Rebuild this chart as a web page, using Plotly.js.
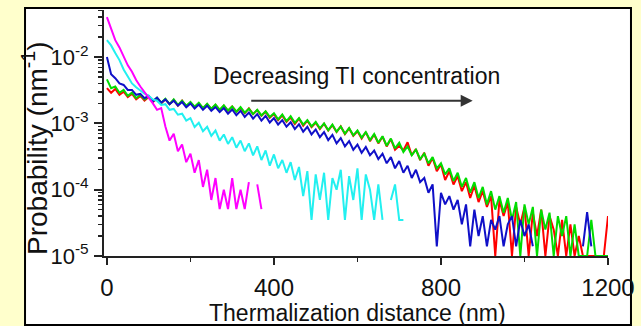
<!DOCTYPE html>
<html>
<head>
<meta charset="utf-8">
<script src="https://cdn.plot.ly/plotly-3.0.1.min.js"></script>
<style>html,body{margin:0;padding:0;background:#FFFFCC;}#chart{width:641px;height:326px;}</style>
</head>
<body>
<div id="chart"></div>
<script>
// Histogram bin width (nm)
const binWidthNm = 10;

// Probability (nm^-1) per 10 nm bin, starting at 0 nm
const magentaProb = [
  4.0e-2, 2.6e-2, 1.8e-2, 1.4e-2, 1.0e-2, 7.5e-3, 6.0e-3, 4.5e-3, 3.6e-3, 3.0e-3,
  2.4e-3, 2.0e-3, 1.6e-3, 1.7e-3, 9.0e-4, 5.5e-4, 7.0e-4, 3.8e-4, 4.8e-4, 2.6e-4,
  3.5e-4, 1.8e-4, 2.8e-4, 1.1e-4, 2.0e-4, 7.0e-5, 1.5e-4, 5.1e-5, 1.0e-4, 5.1e-5,
  1.5e-4, 5.1e-5, 1.0e-4, 5.1e-5, 1.3e-4, null, 1.2e-4, 5.1e-5
];
const cyanProb = [
  1.8e-2, 1.5e-2, 1.15e-2, 9.0e-3, 6.5e-3, 5.0e-3, 4.0e-3, 3.5e-3, 3.1e-3, 2.8e-3,
  2.6e-3, 2.3e-3, 2.2e-3, 1.9e-3, 1.95e-3, 1.6e-3, 1.65e-3, 1.35e-3, 1.4e-3, 1.1e-3,
  1.2e-3, 8.8e-4, 1.02e-3, 7.6e-4, 8.9e-4, 6.5e-4, 7.8e-4, 5.5e-4, 6.8e-4, 4.9e-4,
  6.2e-4, 4.3e-4, 5.5e-4, 3.8e-4, 5.0e-4, 3.3e-4, 4.5e-4, 2.8e-4, 3.9e-4, 2.3e-4,
  3.4e-4, 2.1e-4, 2.8e-4, 1.8e-4, 2.6e-4, 1.4e-4, 2.2e-4, 8.0e-5, 1.9e-4, 3.5e-5,
  1.7e-4, 7.0e-5, 1.8e-4, 3.5e-5, 1.5e-4, 1.0e-4, 2.0e-4, 3.5e-5, 1.6e-4, 7.0e-5,
  2.1e-4, 3.5e-5, 1.7e-4, 1.0e-4, 3.5e-5, 1.2e-4, 3.5e-5, null, 7.0e-5, 1.2e-4,
  3.5e-5, 3.5e-5
];
const blueProb = [
  1.0e-2, 5.5e-3, 4.8e-3, 4.0e-3, 3.8e-3, 3.2e-3, 3.2e-3, 2.7e-3, 2.8e-3, 2.4e-3,
  2.6e-3, 2.15e-3, 2.45e-3, 2.05e-3, 2.3e-3, 1.95e-3, 2.2e-3, 1.85e-3, 2.1e-3, 1.75e-3,
  2.0e-3, 1.68e-3, 1.92e-3, 1.6e-3, 1.85e-3, 1.55e-3, 1.76e-3, 1.48e-3, 1.7e-3, 1.4e-3,
  1.62e-3, 1.33e-3, 1.55e-3, 1.25e-3, 1.46e-3, 1.18e-3, 1.38e-3, 1.1e-3, 1.3e-3, 1.03e-3,
  1.2e-3, 9.6e-4, 1.12e-3, 8.9e-4, 1.04e-3, 8.2e-4, 9.7e-4, 7.5e-4, 8.9e-4, 6.8e-4,
  8.1e-4, 6.2e-4, 7.4e-4, 5.6e-4, 6.7e-4, 5.0e-4, 6.0e-4, 4.5e-4, 5.4e-4, 4.0e-4,
  4.8e-4, 3.6e-4, 4.4e-4, 3.3e-4, 3.9e-4, 2.9e-4, 3.5e-4, 2.5e-4, 3.1e-4, 2.1e-4,
  2.7e-4, 1.8e-4, 2.3e-4, 1.5e-4, 2.0e-4, 1.3e-4, 1.5e-4, 9.0e-5, 1.2e-4, 1.4e-5,
  9.0e-5, 6.0e-5, 8.0e-5, 5.0e-5, 7.0e-5, 3.0e-5, 6.0e-5, 1.4e-5, 5.0e-5, 2.0e-5,
  4.0e-5, 1.4e-5, 3.5e-5, 2.5e-5, 4.0e-5, 1.4e-5, 3.0e-5, 4.0e-5, 1.4e-5, 3.5e-5,
  2.0e-5, 3.0e-5, 1.4e-5, null, null, null, null, null, null, null,
  null, null, null, null, 1.4e-5, 4.6e-5, 1.4e-5
];
const redProb = [
  3.4e-3, 2.9e-3, 3.3e-3, 2.7e-3, 3.0e-3, 2.5e-3, 2.8e-3, 2.3e-3, 2.6e-3, 2.2e-3,
  2.5e-3, 2.1e-3, 2.4e-3, 2.0e-3, 2.3e-3, 1.95e-3, 2.25e-3, 1.85e-3, 2.2e-3, 1.8e-3,
  2.05e-3, 1.75e-3, 2.0e-3, 1.7e-3, 1.95e-3, 1.65e-3, 1.9e-3, 1.6e-3, 1.85e-3, 1.55e-3,
  1.8e-3, 1.5e-3, 1.7e-3, 1.42e-3, 1.68e-3, 1.38e-3, 1.58e-3, 1.3e-3, 1.5e-3, 1.22e-3,
  1.38e-3, 1.12e-3, 1.32e-3, 1.05e-3, 1.22e-3, 9.8e-4, 1.18e-3, 9.2e-4, 1.1e-3, 8.8e-4,
  1.02e-3, 8.2e-4, 9.9e-4, 7.8e-4, 9.4e-4, 7.4e-4, 9.0e-4, 6.9e-4, 8.4e-4, 6.5e-4,
  7.6e-4, 5.9e-4, 7.4e-4, 5.4e-4, 6.8e-4, 5.0e-4, 6.3e-4, 4.5e-4, 5.8e-4, 4.0e-4,
  4.6e-4, 3.9e-4, 5.2e-4, 3.3e-4, 4.1e-4, 2.8e-4, 3.6e-4, 2.3e-4, 3.0e-4, 1.9e-4,
  2.4e-4, 1.4e-4, 1.9e-4, 1.2e-4, 1.6e-4, 9.5e-5, 1.3e-4, 7.5e-5, 1.15e-4, 6.5e-5,
  9.5e-5, 5.5e-5, 8.0e-5, 1.0e-5, 7.0e-5, 4.0e-5, 6.5e-5, 1.0e-5, 5.5e-5, 3.0e-5,
  5.5e-5, 1.0e-5, 4.5e-5, 2.0e-5, 5.0e-5, 1.0e-5, 4.0e-5, 2.5e-5, 1.0e-5, 3.5e-5,
  1.0e-5, 3.0e-5, 1.0e-5, 2.0e-5, 1.0e-5, 1.0e-5, 1.0e-5, 1.0e-5, 1.0e-5, 1.0e-5,
  4.0e-5
];
const greenProb = [
  4.6e-3, 3.4e-3, 3.6e-3, 2.9e-3, 3.2e-3, 2.6e-3, 2.9e-3, 2.4e-3, 2.7e-3, 2.3e-3,
  2.55e-3, 2.15e-3, 2.45e-3, 2.05e-3, 2.35e-3, 1.95e-3, 2.3e-3, 1.9e-3, 2.2e-3, 1.85e-3,
  2.1e-3, 1.78e-3, 2.05e-3, 1.7e-3, 1.98e-3, 1.66e-3, 1.92e-3, 1.6e-3, 1.88e-3, 1.56e-3,
  1.8e-3, 1.5e-3, 1.76e-3, 1.45e-3, 1.66e-3, 1.38e-3, 1.6e-3, 1.32e-3, 1.52e-3, 1.25e-3,
  1.42e-3, 1.15e-3, 1.36e-3, 1.08e-3, 1.28e-3, 1.02e-3, 1.2e-3, 9.6e-4, 1.12e-3, 9.0e-4,
  1.05e-3, 8.4e-4, 1.0e-3, 7.9e-4, 9.6e-4, 7.5e-4, 9.0e-4, 7.0e-4, 8.5e-4, 6.6e-4,
  7.8e-4, 6.1e-4, 7.4e-4, 5.6e-4, 6.9e-4, 5.1e-4, 6.4e-4, 4.6e-4, 5.9e-4, 4.2e-4,
  5.1e-4, 3.7e-4, 4.5e-4, 3.3e-4, 4.0e-4, 2.9e-4, 3.5e-4, 2.5e-4, 3.1e-4, 2.1e-4,
  2.5e-4, 1.7e-4, 2.1e-4, 1.35e-4, 1.8e-4, 1.1e-4, 1.5e-4, 9.0e-5, 1.3e-4, 7.5e-5,
  1.1e-4, 6.0e-5, 9.5e-5, 5.0e-5, 8.0e-5, 4.5e-5, 7.5e-5, 3.5e-5, 6.5e-5, 1.0e-5,
  6.0e-5, 3.0e-5, 5.5e-5, 1.0e-5, 5.0e-5, 2.5e-5, 4.5e-5, 1.0e-5, 4.0e-5, 2.0e-5,
  4.0e-5, 1.0e-5, 3.0e-5, 1.0e-5, 1.0e-5, 1.0e-5, 3.5e-5, 1.0e-5, 1.0e-5, 1.0e-5,
  1.0e-5
];

const xTickVals = [0, 400, 800, 1200];
const yTickVals = [1e-5, 1e-4, 1e-3, 1e-2];
const yTickText = ['10<sup>-5</sup>', '10<sup>-4</sup>', '10<sup>-3</sup>', '10<sup>-2</sup>'];
const yTitleText = 'Probability (nm<sup>-1</sup>)';
const xTitleText = 'Thermalization distance (nm)';
const noteText = 'Decreasing TI concentration';

function bins(arr) { return arr.map((_, i) => i * binWidthNm); }

const FONT = 'Liberation Sans, Arial, Helvetica, sans-serif';
const NARROW = 'Liberation Sans Narrow, Arial Narrow, Liberation Sans, Arial, sans-serif';
const series = [
  {y: redProb, color: '#FF0000'},
  {y: greenProb, color: '#00DD00'},
  {y: blueProb, color: '#1010C8'},
  {y: cyanProb, color: '#22F0F0'},
  {y: magentaProb, color: '#FF00FF'}
];
const traces = series.map(s => ({
  type: 'scatter', mode: 'lines', x: bins(s.y), y: s.y,
  line: {color: s.color, width: 2}, connectgaps: false, hoverinfo: 'skip'
}));

const axLine = '#222222';
const layout = {
  width: 641, height: 326,
  margin: {l: 104, r: 33, t: 10, b: 70, pad: 0},
  paper_bgcolor: '#FFFFCC', plot_bgcolor: 'rgba(0,0,0,0)',
  showlegend: false,
  font: {family: FONT, color: '#111'},
  xaxis: {
    range: [-7, 1200], tickvals: xTickVals, ticks: 'outside', ticklen: 7, tickwidth: 2,
    tickcolor: axLine, showline: true, linecolor: axLine, linewidth: 2, showgrid: false,
    zeroline: false, tickfont: {size: 24, family: NARROW, color: '#111'}, ticklabelstandoff: 2,
    minor: {dtick: 200, tick0: 0, ticks: 'outside', ticklen: 4, tickwidth: 1.5, tickcolor: axLine}
  },
  yaxis: {
    type: 'log', range: [-5, -1.29], tickvals: yTickVals, ticktext: yTickText, ticks: 'outside',
    ticklen: 8, tickwidth: 2, tickcolor: axLine, showline: true, linecolor: axLine, linewidth: 2,
    showgrid: false, zeroline: false, tickfont: {size: 22, family: FONT, color: '#111'},
    ticklabelstandoff: 1,
    minor: {dtick: 'D1', ticks: 'outside', ticklen: 4, tickwidth: 1.5, tickcolor: axLine}
  },
  xaxis2: {
    overlaying: 'x', side: 'top', anchor: 'y', range: [-7, 1200], tickvals: [0,200,400,600,800,1000,1200],
    ticks: 'inside', ticklen: 5, tickwidth: 1.5, tickcolor: axLine, showticklabels: false,
    showline: true, linecolor: axLine, linewidth: 1.5, showgrid: false, zeroline: false
  },
  yaxis2: {
    overlaying: 'y', side: 'right', anchor: 'x', type: 'log', range: [-5, -1.29], dtick: 1,
    ticks: 'inside', ticklen: 6, tickwidth: 1.5, tickcolor: axLine, showticklabels: false,
    showline: true, linecolor: axLine, linewidth: 2, showgrid: false, zeroline: false,
    minor: {dtick: 'D1', ticks: 'inside', ticklen: 3, tickwidth: 1, tickcolor: axLine}
  },
  shapes: [{
    type: 'rect', xref: 'paper', yref: 'paper', layer: 'below',
    x0: -0.1567, x1: 1.0456, y0: -0.2805, y1: 1.0081,
    fillcolor: '#FFFFFF', line: {color: '#000', width: 2}
  }],
  annotations: [
    {xref: 'paper', yref: 'paper', x: -0.137, y: 0.439, text: yTitleText, textangle: -90,
     showarrow: false, font: {size: 28, family: FONT, color: '#111'}, xanchor: 'center', yanchor: 'middle'},
    {xref: 'paper', yref: 'paper', x: 0.502, y: -0.232, text: xTitleText, showarrow: false,
     font: {size: 23, family: FONT, color: '#111'}, xanchor: 'center', yanchor: 'middle'},
    {xref: 'paper', yref: 'paper', x: 0.5, y: 0.732, text: noteText, showarrow: false,
     font: {size: 23, family: FONT, color: '#111'}, xanchor: 'center', yanchor: 'middle'},
    {xref: 'x', yref: 'y', x: 876, y: -2.659, ax: 342, ay: -2.659, axref: 'x', ayref: 'y',
     text: '', showarrow: true, arrowhead: 2, arrowsize: 1.2, arrowwidth: 2, arrowcolor: '#333', standoff: 0}
  ]
};

Plotly.newPlot('chart', traces, layout, {staticPlot: true, displayModeBar: false});
</script>
</body>
</html>
